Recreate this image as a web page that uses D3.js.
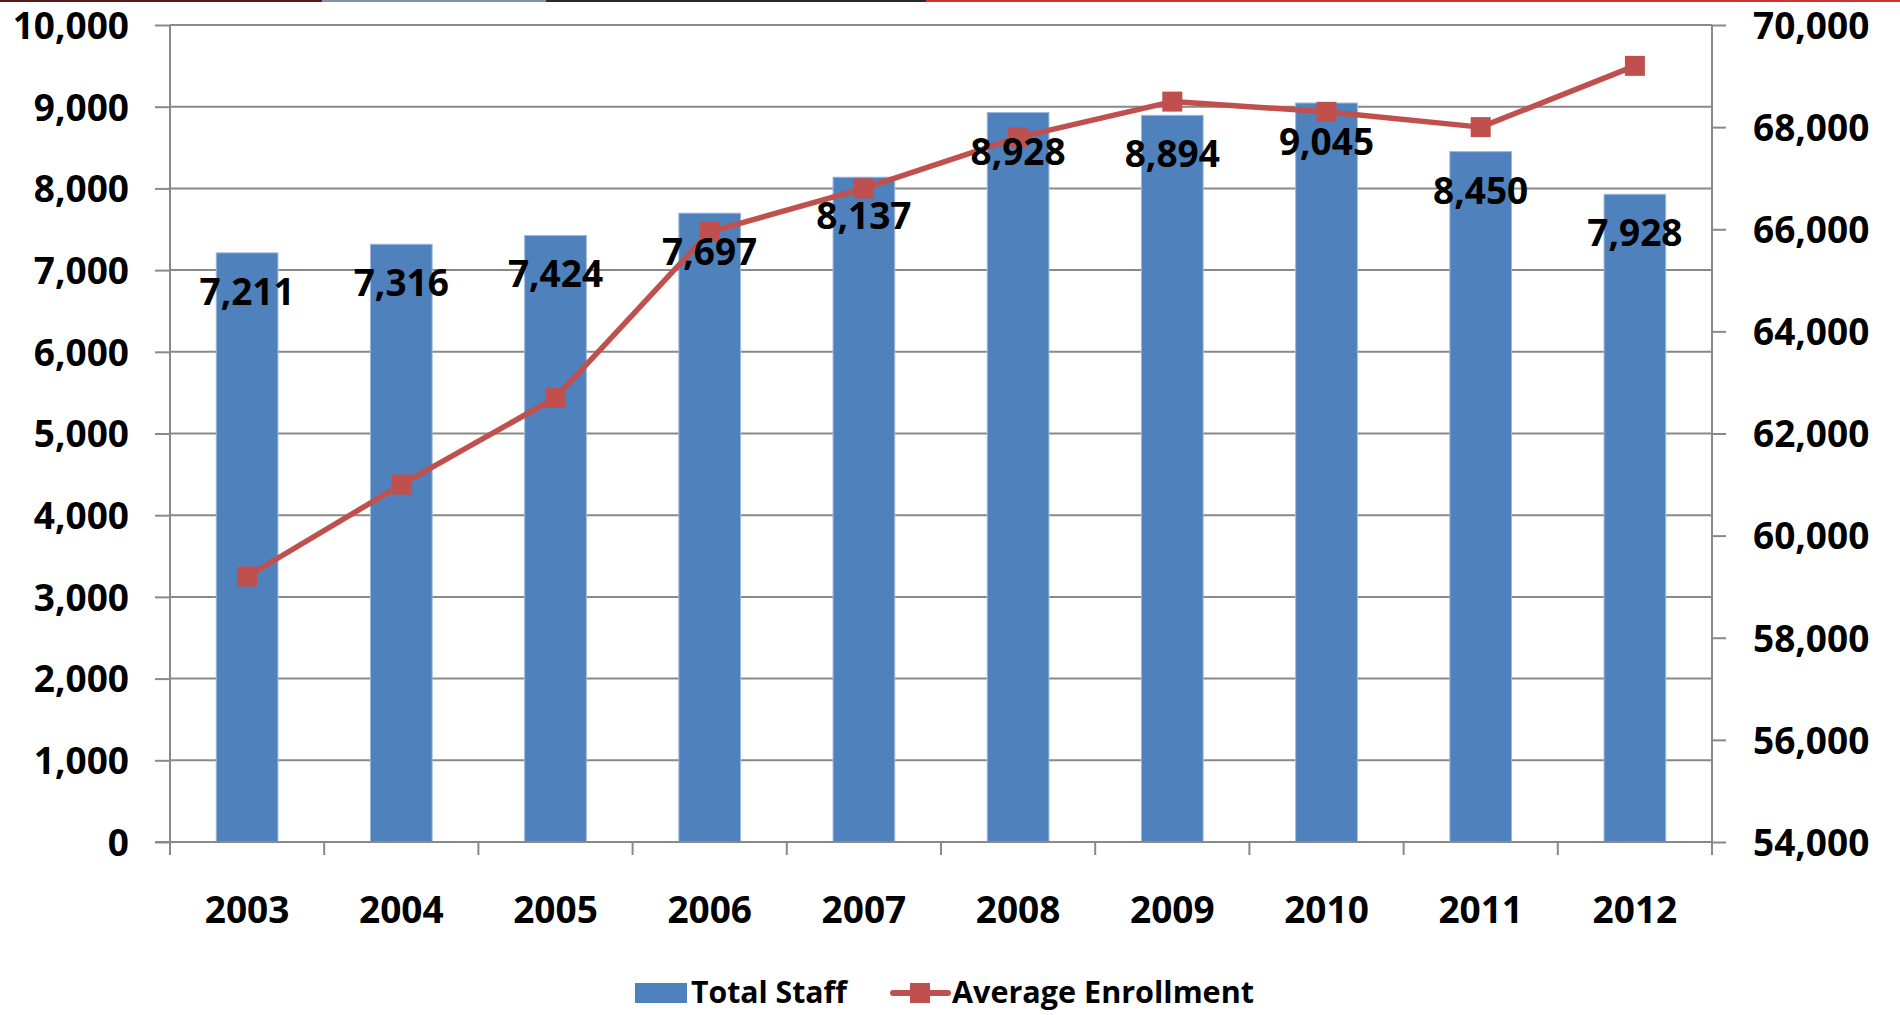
<!DOCTYPE html>
<html>
<head>
<meta charset="utf-8">
<script src="https://cdn.jsdelivr.net/npm/d3@7"></script>
<style>
  html, body { margin: 0; padding: 0; background: #ffffff; }
  svg { display: block; }
  text { font-family: "Open Sans", "Noto Sans", sans-serif; font-weight: 700; fill: #000; }
</style>
</head>
<body>
<script>
// Staffing vs. enrollment, 2003–2012
const years = ["2003", "2004", "2005", "2006", "2007", "2008", "2009", "2010", "2011", "2012"];
const totalStaff = [7211, 7316, 7424, 7697, 8137, 8928, 8894, 9045, 8450, 7928];
const averageEnrollment = [59200, 61000, 62700, 65950, 66800, 67800, 68500, 68300, 68000, 69200];
const staffTicks = [0, 1000, 2000, 3000, 4000, 5000, 6000, 7000, 8000, 9000, 10000];
const enrollmentTicks = [54000, 56000, 58000, 60000, 62000, 64000, 66000, 68000, 70000];
const seriesNames = ["Total Staff", "Average Enrollment"];

const W = 1900, H = 1015;
const plotLeft = 170, plotRight = 1712, plotTop = 25, plotBottom = 842;
const BLUE = "#4F81BD", RED = "#C0504D", GRID = "#898989";
const fmt = d3.format(",");

const svg = d3.select("body").append("svg").attr("width", W).attr("height", H);

// thin header strip along the top edge
const strip = svg.append("g");
strip.append("rect").attr("x", 0).attr("y", 0).attr("width", 322).attr("height", 2).attr("fill", "#5a1a1a");
strip.append("rect").attr("x", 322).attr("y", 0).attr("width", 224).attr("height", 2).attr("fill", "#7f93a8");
strip.append("rect").attr("x", 546).attr("y", 0).attr("width", 380).attr("height", 2).attr("fill", "#2a2a2a");
strip.append("rect").attr("x", 926).attr("y", 0).attr("width", 974).attr("height", 2).attr("fill", "#CC3333");

const x = d3.scaleBand().domain(years).range([plotLeft, plotRight]).paddingInner(0.6).paddingOuter(0.3);
const yL = d3.scaleLinear().domain([0, 10000]).range([plotBottom, plotTop]);
const yR = d3.scaleLinear().domain([54000, 70000]).range([plotBottom, plotTop]);
const step = x.step();

// horizontal gridlines
svg.append("g").selectAll("line").data(staffTicks).join("line")
  .attr("x1", plotLeft).attr("x2", plotRight)
  .attr("y1", d => yL(d)).attr("y2", d => yL(d))
  .attr("stroke", GRID).attr("stroke-width", 2);

// left axis
const gL = svg.append("g").attr("transform", `translate(${plotLeft},0)`)
  .call(d3.axisLeft(yL).tickValues(staffTicks).tickSize(15).tickPadding(26).tickFormat(fmt));
gL.select(".domain").remove();
gL.selectAll(".tick line").attr("stroke", GRID).attr("stroke-width", 2);
gL.selectAll(".tick text").attr("font-size", 37).attr("dy", "0.36em")
  .style("font-family", "'Open Sans', sans-serif").style("font-weight", 700).attr("fill", "#000");
svg.append("line").attr("x1", plotLeft).attr("x2", plotLeft).attr("y1", plotTop).attr("y2", plotBottom + 13)
  .attr("stroke", GRID).attr("stroke-width", 2);

// right axis
const gR = svg.append("g").attr("transform", `translate(${plotRight},0)`)
  .call(d3.axisRight(yR).tickValues(enrollmentTicks).tickSize(14).tickPadding(27).tickFormat(fmt));
gR.select(".domain").remove();
gR.selectAll(".tick line").attr("stroke", GRID).attr("stroke-width", 2);
gR.selectAll(".tick text").attr("font-size", 37).attr("dy", "0.36em")
  .style("font-family", "'Open Sans', sans-serif").style("font-weight", 700).attr("fill", "#000");
svg.append("line").attr("x1", plotRight).attr("x2", plotRight).attr("y1", plotTop).attr("y2", plotBottom + 13)
  .attr("stroke", GRID).attr("stroke-width", 2);

// category axis: ticks between categories, labels centred under bars
const boundaries = years.map(d => x(d) - (step - x.bandwidth()) / 2).concat([plotRight]);
svg.append("g").selectAll("line").data(boundaries).join("line")
  .attr("x1", d => d).attr("x2", d => d).attr("y1", plotBottom).attr("y2", plotBottom + 13)
  .attr("stroke", GRID).attr("stroke-width", 2);
svg.append("g").selectAll("text").data(years).join("text")
  .attr("x", d => x(d) + x.bandwidth() / 2).attr("y", 923)
  .attr("text-anchor", "middle").attr("font-size", 37).text(d => d);

// bars
svg.append("g").selectAll("rect").data(years).join("rect")
  .attr("x", d => x(d)).attr("width", x.bandwidth())
  .attr("y", (d, i) => yL(totalStaff[i])).attr("height", (d, i) => plotBottom - yL(totalStaff[i]))
  .attr("fill", BLUE).attr("stroke", "#9CB8DC").attr("stroke-width", 1);

// zero baseline over the bars
svg.append("line").attr("x1", plotLeft - 15).attr("x2", plotRight).attr("y1", plotBottom).attr("y2", plotBottom)
  .attr("stroke", GRID).attr("stroke-width", 2);

// enrollment line and markers
const cx = d => x(d) + x.bandwidth() / 2;
const line = d3.line().x((d, i) => cx(years[i])).y(d => yR(d));
svg.append("path").datum(averageEnrollment).attr("d", line)
  .attr("fill", "none").attr("stroke", RED).attr("stroke-width", 5.5).attr("stroke-linejoin", "round");
svg.append("g").selectAll("rect").data(averageEnrollment).join("rect")
  .attr("x", (d, i) => cx(years[i]) - 10).attr("y", d => yR(d) - 10)
  .attr("width", 20).attr("height", 20).attr("fill", RED);

// value labels inside the top of each bar
svg.append("g").selectAll("text").data(totalStaff).join("text")
  .attr("x", (d, i) => cx(years[i])).attr("y", d => yL(d) + 52)
  .attr("text-anchor", "middle").attr("font-size", 37).text(d => fmt(d));

// legend
const lg = svg.append("g");
lg.append("rect").attr("x", 635).attr("y", 983).attr("width", 52).attr("height", 20).attr("fill", BLUE);
lg.append("text").attr("x", 691).attr("y", 1003).attr("font-size", 31)
  .attr("textLength", 156).attr("lengthAdjust", "spacingAndGlyphs").text(seriesNames[0]);
lg.append("line").attr("x1", 893).attr("x2", 948).attr("y1", 993).attr("y2", 993)
  .attr("stroke", RED).attr("stroke-width", 6).attr("stroke-linecap", "round");
lg.append("rect").attr("x", 910).attr("y", 983).attr("width", 20).attr("height", 20).attr("fill", RED);
lg.append("text").attr("x", 952).attr("y", 1003).attr("font-size", 31)
  .attr("textLength", 302).attr("lengthAdjust", "spacingAndGlyphs").text(seriesNames[1]);
</script>
</body>
</html>
